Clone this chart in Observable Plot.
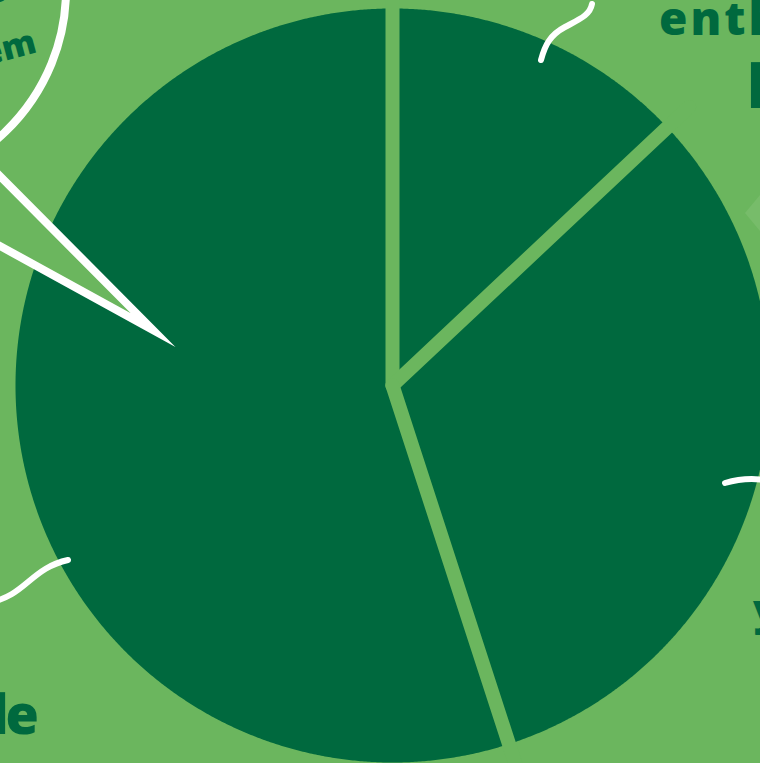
<!DOCTYPE html>
<html><head><meta charset="utf-8">
<script src="https://cdn.jsdelivr.net/npm/d3@7"></script>
<script src="https://cdn.jsdelivr.net/npm/@observablehq/plot@0.6"></script>
<style>html,body{margin:0;padding:0;background:#6bb65e;overflow:hidden}</style>
</head><body><div id="chart"></div>
<script>
// Data: three slices of the pie (percent shares), clockwise from 12 o'clock
const categories = ["enth…", "…y", "…le"];
const shares = [13, 32, 55];

const BG = "#6bb65e", DARK = "#00693e";
const R = 377;

const arcs = d3.pie().sort(null).value(d => d)(shares);
const wedgePts = arcs.flatMap((a, i) => {
  const n = Math.max(2, Math.ceil((a.endAngle - a.startAngle) / 0.005));
  const pts = [{k: categories[i], x: 0, y: 0}];
  for (let j = 0; j <= n; j++) {
    const t = a.startAngle + (a.endAngle - a.startAngle) * j / n;
    pts.push({k: categories[i], x: R * Math.sin(t), y: -R * Math.cos(t)});
  }
  pts.push({k: categories[i], x: 0, y: 0});
  return pts;
});
const seps = arcs.map(a => ({x1: 0, y1: 0, x2: (R + 30) * Math.sin(a.startAngle), y2: -(R + 30) * Math.cos(a.startAngle)}));

const svg = Plot.plot({
  width: 760, height: 763,
  margin: 0,
  style: {background: BG, overflow: "hidden"},
  x: {domain: [-392, 368], range: [0, 760], axis: null},
  y: {domain: [-385, 378], range: [0, 763], axis: null},
  marks: [
    Plot.line(wedgePts, {x: "x", y: "y", z: "k", fill: DARK, stroke: "none"}),
    Plot.link(seps, {x1: "x1", y1: "y1", x2: "x2", y2: "y2", stroke: BG, strokeWidth: 14, strokeLinecap: "round"})
  ]
});
document.getElementById("chart").append(svg);

// Decorations (annotation artwork around the pie)
const g = d3.select(svg).append("g");
g.append("polygon").attr("points", "745,213 760,195 775,213 760,231").attr("fill", "#77bc6a");
g.append("ellipse").attr("cx", -140).attr("cy", -10).attr("rx", 206).attr("ry", 200)
  .attr("fill", "none").attr("stroke", "white").attr("stroke-width", 8);
g.append("polygon").attr("points", "-30,146 153,330 -30,229.5")
  .attr("fill", BG).attr("stroke", "white").attr("stroke-width", 8).attr("stroke-linejoin", "miter").attr("stroke-miterlimit", 20);
const sq = ["M541,60 C545,45 550,35 565,27 S590,15 592,4",
            "M725,483 Q745,477 765,480",
            "M68,560 C50,564 40,572 28,582 S8,598 -8,602"];
sq.forEach(d => g.append("path").attr("d", d).attr("fill", "none").attr("stroke", "white")
  .attr("stroke-width", 6).attr("stroke-linecap", "round"));

const txt = (s, x, y, size, anchor, rot, ls) => {
  const t = g.append("text").attr("x", x).attr("y", y).text(s)
    .attr("fill", DARK).attr("font-family", "'Open Sans', sans-serif").attr("font-weight", 800)
    .attr("font-size", size).attr("text-anchor", anchor);
  if (ls) t.attr("letter-spacing", ls);
  if (rot) t.attr("transform", `rotate(${rot},${x},${y})`);
};
txt("enth", 659, 35, 46, "start", 0, 3);
txt("l", 747, 108, 60, "start");
txt("y", 753, 625, 42, "start");
txt("le", 36, 734, 54, "end", 0, -3);
txt("problem", 38, 52, 34, "end", -15);
txt("that", 6, 0, 30, "end", -15);
</script></body></html>
